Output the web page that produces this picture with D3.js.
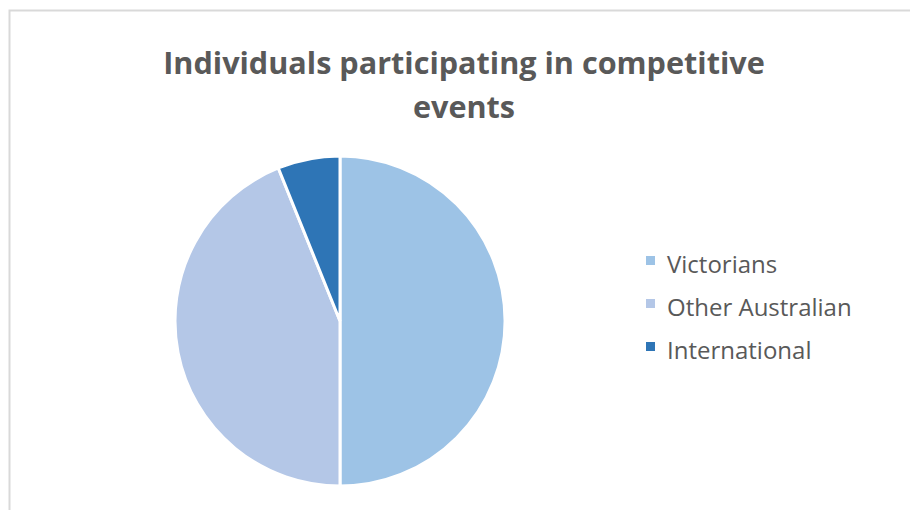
<html>
<head>
<meta charset="utf-8">
<script src="https://cdnjs.cloudflare.com/ajax/libs/d3/7.8.5/d3.min.js"></script>
<style>
  body { margin:0; background:#fff; }
  text { font-family:"Open Sans", sans-serif; }
</style>
</head>
<body>
<svg id="chart"></svg>
<script>
// chart data
var categories = ["Victorians","Other Australian","International"];
var values = [50, 43.9, 6.1];
var colors = ["#9DC3E6","#B4C7E7","#2E75B6"];
var titleLines = ["Individuals participating in competitive","events"];

var screen = {width:910, height:510};
var center = {x:340, y:321};
var radius = 165;

var svg = d3.select("#chart")
    .attr("width",screen.width)
    .attr("height",screen.height);

// chart frame (runs off right and bottom)
svg.append("rect")
    .attr("x",9.5).attr("y",10.5)
    .attr("width",1000).attr("height",1000)
    .attr("fill","none")
    .attr("stroke","#d9d9d9")
    .attr("stroke-width",2);

// title
var title = svg.append("text")
    .attr("text-anchor","middle")
    .attr("fill","#595959")
    .attr("font-weight","bold")
    .attr("font-size",30.6);
title.selectAll("tspan")
    .data(titleLines)
    .enter()
    .append("tspan")
    .attr("x",464)
    .attr("y",function(d,i){return 74+i*44;})
    .text(function(d){return d;});

// pie
var pie = d3.pie().sort(null).value(function(d){return d;});
var arc = d3.arc().innerRadius(0).outerRadius(radius);

svg.append("g")
    .attr("transform","translate("+center.x+","+center.y+")")
    .selectAll("path")
    .data(pie(values))
    .enter()
    .append("path")
    .attr("d",arc)
    .attr("fill",function(d,i){return colors[i];})
    .attr("stroke","#fff")
    .attr("stroke-width",3);

// legend
var legend = svg.append("g")
    .attr("transform","translate(646,264)");
var rows = legend.selectAll("g")
    .data(categories)
    .enter()
    .append("g")
    .attr("transform",function(d,i){return "translate(0,"+(i*43)+")";});
rows.append("rect")
    .attr("x",0).attr("y",-8)
    .attr("width",9).attr("height",9)
    .attr("fill",function(d,i){return colors[i];});
rows.append("text")
    .attr("x",21)
    .attr("y",9)
    .attr("fill","#595959")
    .attr("font-size",24)
    .text(function(d){return d;});
</script>
</body>
</html>
